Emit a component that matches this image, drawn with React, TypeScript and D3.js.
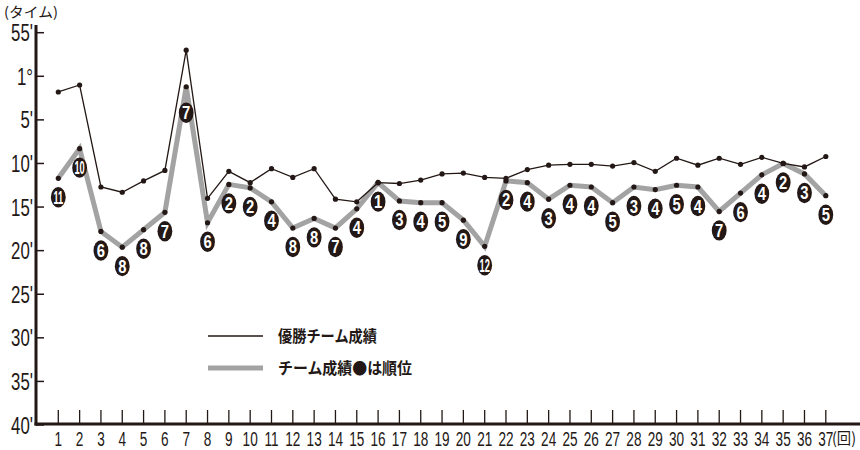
import React from "react";
import * as d3 from "d3";

const W = 860;
const H = 450;
const INK = "#231815";
const GRAY = "#a3a3a3";
const NUM_FONT = "'Liberation Sans', Arial, sans-serif";
const JP_FONT = "'Noto Sans CJK JP', 'Noto Sans', sans-serif";

// race number (回)
const races = d3.range(1, 38);
// winning team time, minutes on the 55'..1°40' scale (60 = 1:00, 70 = 1:10 ...)
const winnerTimes = [
  61.8, 61.0, 72.7, 73.3, 72.0, 70.8, 57.0, 74.0, 70.9, 72.2,
  70.6, 71.6, 70.6, 74.1, 74.4, 72.2, 72.3, 71.9, 71.2, 71.1,
  71.6, 71.7, 70.7, 70.2, 70.1, 70.1, 70.3, 69.9, 70.9, 69.4,
  70.2, 69.4, 70.1, 69.3, 70.0, 70.4, 69.2,
];
// the team's own time
const teamTimes = [
  71.7, 68.3, 77.8, 79.6, 77.6, 75.6, 61.2, 76.8, 72.4, 72.8,
  74.4, 77.4, 76.3, 77.4, 75.2, 72.2, 74.3, 74.5, 74.5, 76.5,
  79.5, 72.0, 72.2, 74.1, 72.5, 72.7, 74.5, 72.7, 73.0, 72.5,
  72.7, 75.5, 73.4, 71.3, 70.0, 71.2, 73.7,
];
// finishing position
const ranks = [
  11, 10, 6, 8, 8, 7, 7, 6, 2, 2,
  4, 8, 8, 7, 4, 1, 3, 4, 5, 9,
  12, 2, 4, 3, 4, 4, 5, 3, 4, 5,
  4, 7, 6, 4, 2, 3, 5,
];
const yTicks = [55, 60, 65, 70, 75, 80, 85, 90, 95, 100];
const yTickLabels = ["55'", "1°", "5'", "10'", "15'", "20'", "25'", "30'", "35'", "40'"];

const legendItems = [
  { label: "優勝チーム成績", color: INK, width: 1.3 },
  { label: "チーム成績●は順位", color: GRAY, width: 5 },
];

const App = () => {
  const x = d3.scaleLinear().domain([1, 37]).range([58.3, 825.8]);
  const y = d3.scaleLinear().domain([55, 100]).range([32.7, 425]);

  const axisX = 36;
  const axisY = 424;

  const line = d3
    .line<number>()
    .x((_, i) => x(races[i]))
    .y((d) => y(d));

  return (
    <svg
      width={W}
      height={H}
      style={{ position: "absolute", left: 0, top: 0, background: "#fff" }}
    >
      {/* axis titles */}
      <text x={4} y={16.5} fontFamily={JP_FONT} fontSize={14} fill={INK} textLength={54} lengthAdjust="spacingAndGlyphs">
        (タイム)
      </text>
      <text x={832} y={444} fontFamily={JP_FONT} fontSize={16} fill={INK} textLength={24} lengthAdjust="spacingAndGlyphs">
        (回)
      </text>

      {/* y axis */}
      <line x1={axisX} x2={axisX} y1={25} y2={axisY + 1.5} stroke={INK} strokeWidth={3} />
      {yTicks.map((t, i) => (
        <g key={t}>
          <line x1={axisX} x2={axisX + 8} y1={y(t)} y2={y(t)} stroke={INK} strokeWidth={1.5} />
          <g transform={`translate(33,${y(t) + 8.5}) scale(0.7,1)`}>
            <text textAnchor="end" fontFamily={NUM_FONT} fontSize={24} fill={INK}>
              {yTickLabels[i]}
            </text>
          </g>
        </g>
      ))}

      {/* x axis */}
      <line x1={axisX - 1.5} x2={W} y1={axisY} y2={axisY} stroke={INK} strokeWidth={3} />
      {races.map((r) => (
        <g key={r}>
          <line x1={x(r)} x2={x(r)} y1={axisY} y2={axisY - 14} stroke={INK} strokeWidth={1.3} />
          <g transform={`translate(${x(r)},446) scale(0.68,1)`}>
            <text textAnchor="middle" fontFamily={NUM_FONT} fontSize={20} fill={INK}>
              {r}
            </text>
          </g>
        </g>
      ))}

      {/* team line */}
      <path d={line(teamTimes) || ""} fill="none" stroke={GRAY} strokeWidth={5} strokeLinejoin="miter" />
      {teamTimes.map((t, i) => (
        <circle key={i} cx={x(races[i])} cy={y(t)} r={2.6} fill={INK} />
      ))}

      {/* winner line */}
      <path d={line(winnerTimes) || ""} fill="none" stroke={INK} strokeWidth={1.3} />
      {winnerTimes.map((t, i) => (
        <circle key={i} cx={x(races[i])} cy={y(t)} r={2.6} fill={INK} />
      ))}

      {/* rank badges */}
      {ranks.map((rk, i) => {
        const cx = x(races[i]);
        const cy = y(teamTimes[i]) + (races[i] === 7 ? 26 : 19);
        const sx = rk >= 10 ? 0.5 : 0.8;
        return (
          <g key={i} transform={`translate(${cx},${cy})`}>
            <ellipse rx={7.4} ry={10.2} fill={INK} />
            <g transform={`translate(0,6.5) scale(${sx},1)`}>
              <text textAnchor="middle" fontFamily={NUM_FONT} fontWeight="bold" fontSize={18.5} fill="#fff">
                {rk}
              </text>
            </g>
          </g>
        );
      })}

      {/* legend */}
      {legendItems.map((d, i) => (
        <g key={d.label} transform={`translate(208, ${336 + i * 32})`}>
          <line x1={0} x2={55} y1={0} y2={0} stroke={d.color} strokeWidth={d.width} />
          <text
            x={70}
            y={6}
            fontFamily={JP_FONT}
            fontWeight={700}
            fontSize={16}
            fill={INK}
            textLength={i === 0 ? 99 : 134}
            lengthAdjust="spacingAndGlyphs"
          >
            {d.label}
          </text>
        </g>
      ))}
    </svg>
  );
};

export default App;
